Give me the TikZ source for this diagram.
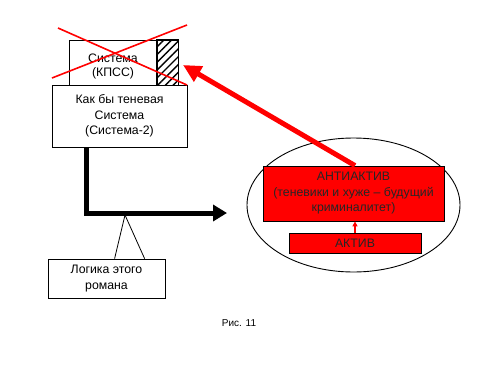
\documentclass[tikz,border=0pt]{standalone}
\usepackage{fontspec}
\setmainfont{Liberation Sans}
\usetikzlibrary{patterns.meta,arrows.meta,shapes.geometric}
\definecolor{pptred}{RGB}{255,0,0}
\tikzset{
  box/.style={draw=black, line width=0.8pt, fill=white, align=center, inner sep=0pt},
  redbox/.style={draw=black, line width=0.8pt, fill=pptred, align=center, inner sep=0pt, text=black!85},
  cross/.style={draw=pptred, line width=1.6pt},
  bigred/.style={draw=pptred, line width=5pt, -{Triangle[length=18pt,width=17pt]}},
  bigblack/.style={draw=black, line width=5pt, line join=miter, -{Triangle[length=14pt,width=16pt]}},
  smallred/.style={draw=pptred, line width=1.3pt, -{Triangle[length=5pt,width=5pt]}},
  txt/.style={font=\fontsize{12.3}{15.5}\selectfont}
}
\begin{document}
\begin{tikzpicture}[x=1pt,y=-1pt]
\useasboundingbox (0,0) rectangle (500,375);
% top crossed system
\node[box, minimum width=88pt, minimum height=45pt] (kpss) at (113,62.5) {};
\node[txt, align=center, inner sep=0pt] (kpsstext) at ([yshift=-4pt]kpss.center) {Система\\[-1.5pt](КПСС)};
\node[draw=black, line width=0.8pt, fill=white, minimum width=21pt, minimum height=45pt, inner sep=0pt] (hatch) at (167.5,62.5) {};
\fill[pattern={Lines[angle=45,distance=5.5pt,line width=1.4pt]}] (hatch.south west) rectangle (hatch.north east);
\draw[line width=0.8pt] (hatch.south west) rectangle (hatch.north east);
% shadow system
\node[box, txt, minimum width=135pt, minimum height=62pt] (sys2) at (119.5,116) {Как бы теневая\\Система\\(Система-2)};
% red cross
\coordinate (c1a) at (58,28);
\coordinate (c1b) at (187,85);
\coordinate (c2a) at (187,25);
\coordinate (c2b) at (52,78);
\draw[cross] (c1a) -- (c1b);
\draw[cross] (c2a) -- (c2b);
% ellipse with active groups
\node[draw=black, line width=0.9pt, ellipse, minimum width=213pt, minimum height=134pt, inner sep=0pt] (ell) at (353.5,205) {};
\node[redbox, txt, minimum width=181pt, minimum height=55pt] (anti) at (353.5,193.5) {АНТИАКТИВ\\(теневики и хуже -- будущий\\криминалитет)};
\node[redbox, txt, minimum width=132pt, minimum height=20pt] (aktiv) at (355,243) {АКТИВ};
\draw[smallred] (aktiv.north) -- (aktiv.north |- anti.south);
% red arrow
\coordinate (redtip) at (183,65);
\draw[bigred] ([xshift=1.5pt]anti.north) -- (redtip);
% black arrow
\coordinate (blacktip) at (227,213);
\draw[bigblack] ([xshift=35pt]sys2.south west) |- (blacktip);
% callout
\node[box, txt, minimum width=117pt, minimum height=39pt] (logic) at (106.5,278.5) {Логика этого\\романа};
\coordinate (ctip) at (125,215);
\draw[line width=0.8pt] ([xshift=67pt]logic.north west) -- (ctip) -- ([xshift=97pt]logic.north west);
% caption
\node[font=\fontsize{10}{11}\selectfont, inner sep=0pt] (cap) at (239,323) {Рис. 11};
\end{tikzpicture}
\end{document}
